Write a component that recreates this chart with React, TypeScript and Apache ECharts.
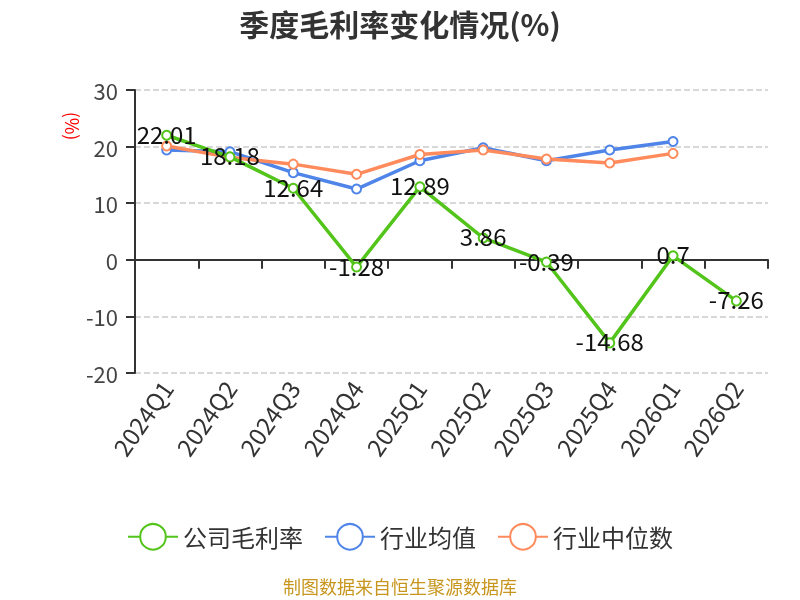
import React, { useEffect, useRef } from "react";
import * as echarts from "echarts";

const categories = ["2024Q1", "2024Q2", "2024Q3", "2024Q4", "2025Q1", "2025Q2", "2025Q3", "2025Q4", "2026Q1", "2026Q2"];
const companyMargin = [22.01, 18.18, 12.64, -1.28, 12.89, 3.86, -0.39, -14.68, 0.7, -7.26];
const industryAvg = [19.4, 19.1, 15.4, 12.5, 17.5, 19.8, 17.5, 19.4, 20.9, null];
const industryMedian = [20.1, 18.1, 16.9, 15.1, 18.6, 19.4, 17.8, 17.1, 18.8, null];
const seriesNames = ["公司毛利率", "行业均值", "行业中位数"];
const colors = ["#52c41a", "#4f84e8", "#ff8a5b"];

const FONT = "'Noto Sans CJK SC', 'Noto Sans', sans-serif";

export default function App() {
  const ref = useRef<HTMLDivElement>(null);
  useEffect(() => {
    if (!ref.current) return;
    const chart = echarts.init(ref.current, null, { renderer: "svg" });
    const mkSeries = (i: number, data: (number | null)[], withLabel: boolean) => ({
      name: seriesNames[i],
      type: "line",
      xAxisIndex: 0,
      data,
      symbol: "emptyCircle",
      symbolSize: 9,
      z: withLabel ? 5 : 3,
      lineStyle: { width: 3.5, color: colors[i] },
      itemStyle: { color: colors[i], borderWidth: 2 },
      label: withLabel
        ? { show: true, position: "inside", offset: [0, -2], color: "#111", fontSize: 24, fontFamily: FONT }
        : { show: false },
    });
    chart.setOption({
      animation: false,
      color: colors,
      textStyle: { fontFamily: FONT },
      title: {
        text: "季度毛利率变化情况(%)",
        left: "center",
        top: 3,
        textStyle: { fontSize: 30, fontWeight: "bold", color: "#333", fontFamily: FONT },
      },
      graphic: [
        {
          type: "text",
          x: 73,
          y: 126,
          rotation: -Math.PI / 2,
          style: { text: "(%)", fill: "#ff0000", fontSize: 18, fontFamily: FONT, align: "center", verticalAlign: "middle" },
        },
        {
          type: "text",
          left: "center",
          top: 577,
          style: { text: "制图数据来自恒生聚源数据库", fill: "#c8961e", fontSize: 18, fontFamily: FONT },
        },
      ],
      legend: {
        top: 518,
        left: "center",
        itemWidth: 50,
        itemHeight: 32,
        itemGap: 21,
        itemTextGap: 10,
        textStyle: { fontSize: 24, color: "#333", fontFamily: FONT },
        data: seriesNames,
      },
      grid: { left: 135, right: 32, top: 90, bottom: 227, containLabel: false },
      xAxis: [
        {
          type: "category",
          data: categories,
          position: "top",
          axisLine: { onZero: true, lineStyle: { color: "#333", width: 2 } },
          axisTick: { show: true, inside: true, length: 9, lineStyle: { color: "#333", width: 2 } },
          axisLabel: { show: false },
          splitLine: { show: false },
        },
        {
          type: "category",
          data: categories,
          position: "bottom",
          axisLine: { show: false, onZero: false },
          axisTick: { show: false },
          axisLabel: { show: true, rotate: 55, fontSize: 24, color: "#333", margin: 10, fontFamily: FONT },
          splitLine: { show: false },
        },
      ],
      yAxis: {
        type: "value",
        min: -20,
        max: 30,
        interval: 10,
        axisLine: { show: true, lineStyle: { color: "#333", width: 2 } },
        axisTick: { show: true, length: 9, lineStyle: { color: "#333", width: 2 } },
        axisLabel: { fontSize: 22, color: "#444", margin: 17, fontFamily: FONT },
        splitLine: { show: true, lineStyle: { type: "dashed", color: "#ccc", width: 1.5 } },
      },
      series: [
        mkSeries(0, companyMargin, true),
        mkSeries(1, industryAvg, false),
        mkSeries(2, industryMedian, false),
      ],
    });
    return () => chart.dispose();
  }, []);
  return <div ref={ref} style={{ position: "fixed", left: 0, top: 0, width: 800, height: 600 }} />;
}
